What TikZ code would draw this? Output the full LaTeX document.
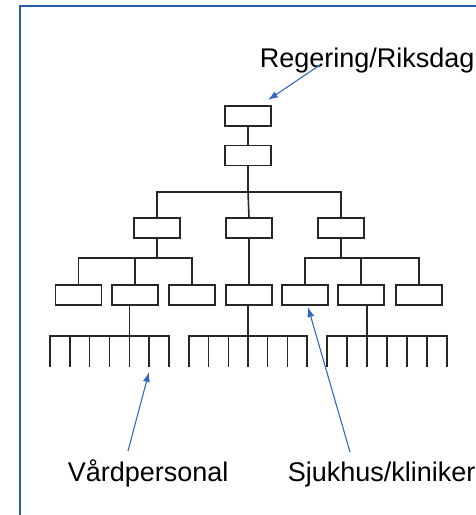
\documentclass[tikz,border=0pt]{standalone}
\usepackage{fontspec}
\setmainfont{Liberation Sans}
\usetikzlibrary{arrows.meta}
\definecolor{frameblue}{RGB}{40,92,180}
\definecolor{arrowblue}{RGB}{52,104,196}

\begin{document}
\begin{tikzpicture}[x=1pt,y=-1pt,line width=1.6pt,
unit node/.style={rectangle,draw=black!85,fill=white,minimum width=46pt,minimum height=20pt,inner sep=0pt},
label text/.style={font=\fontsize{27}{32}\selectfont,inner sep=0pt,anchor=base west},
pointer/.style={draw=arrowblue,line width=1.1pt,-{Latex[length=10pt,width=7pt]}},
wire/.style={draw=black!85}]

\useasboundingbox (0,0) rectangle (476,515);
\clip (0,0) rectangle (476,515);
\draw[frameblue,line width=2pt] (20,6) rectangle (490,530);

% the boxes
\node[unit node] (top) at (248,116) {};
\node[unit node] (sub) at (248,155.5) {};
\foreach \n/\x in {a/157,b/249,c/341}
  \node[unit node] (m\n) at (\x,228) {};
\foreach \n/\x in {1/78.5,2/135,3/192,4/249,5/305,6/361,7/419}
  \node[unit node] (u\n) at (\x,295) {};

% the combs at the bottom
\foreach \g/\x/\d in {l/50/19.83,m/189/19.67,r/327/20}{
  \foreach \i in {0,...,6}
    \coordinate (\g\i) at (\x+\i*\d,336);
  \draw[wire] (\g0) ++(0,31) -- (\g0) -- (\g6) -- ++(0,31);
  \foreach \i in {1,...,5}
    \draw[wire] (\g\i) -- ++(0,31);
}

% wires between the levels
\coordinate (split) at (248,192);
\draw[wire] (top) -- (sub);
\draw[wire] (sub.south) -- (split);
\draw[wire] (ma.north) |- (split) -| (mc.north);
\draw[wire] (split) -- (mb.north);

\coordinate (ja) at (157,258);
\coordinate (jc) at (341,258);
\draw[wire] (ma.south) -- (ja);
\draw[wire] (u1.north) |- (ja) -| (u3.north);
\draw[wire] (u2.north) -- (u2.north |- ja);
\draw[wire] (mb.south) -- (u4.north);
\draw[wire] (mc.south) -- (jc);
\draw[wire] (u5.north) |- (jc) -| (u7.north);
\draw[wire] (u6.north) -- (u6.north |- jc);

\draw[wire] (u2.south -| l4) -- (l4);
\draw[wire] (u4.south -| m3) -- (m3);
\draw[wire] (u6.south -| r2) -- (r2);

% labels and pointers
\node[label text] (reg) at (259,67) {Regering/Riksdag};
\node[label text] (vard) at (67,481) {Vårdpersonal};
\node[label text] (sjuk) at (287,481) {Sjukhus/kliniker};

\coordinate (regtail) at (320,65);
\coordinate (reghead) at (268,100);
\coordinate (vardtail) at (128,451);
\coordinate (vardhead) at (149,372);
\coordinate (sjuktail) at (350,452);
\coordinate (sjukhead) at (308,307);

\draw[pointer] (regtail) -- (reghead);
\draw[pointer] (vardtail) -- (vardhead);
\draw[pointer] (sjuktail) -- (sjukhead);

\end{tikzpicture}
\end{document}
